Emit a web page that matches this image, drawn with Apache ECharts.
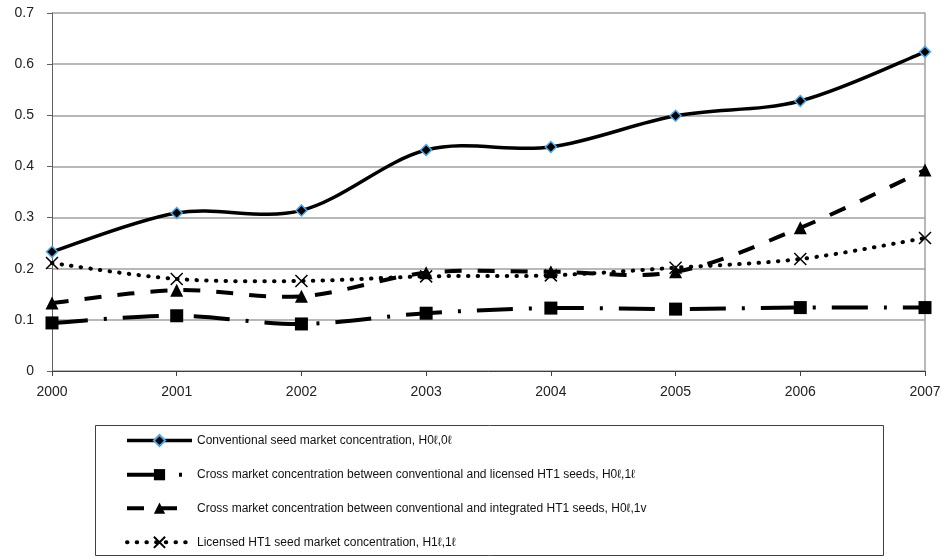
<!DOCTYPE html>
<html>
<head>
<meta charset="utf-8">
<script src="https://cdn.jsdelivr.net/npm/echarts@6/dist/echarts.min.js"></script>
<style>html,body{margin:0;padding:0;background:#fff;}#c{width:949px;height:556px;}</style>
</head>
<body>
<div id="c"></div>
<script>
const years = ['2000','2001','2002','2003','2004','2005','2006','2007'];
const yTicks = [0, 0.1, 0.2, 0.3, 0.4, 0.5, 0.6, 0.7];
const names = [
  'Conventional seed market concentration, H0ℓ,0ℓ',
  'Cross market concentration between conventional and licensed HT1 seeds, H0ℓ,1ℓ',
  'Cross market concentration between conventional and integrated HT1 seeds, H0ℓ,1v',
  'Licensed HT1 seed market concentration, H1ℓ,1ℓ'
];
const conventional = [0.233, 0.309, 0.314, 0.432, 0.438, 0.499, 0.528, 0.624];
const crossLicensed = [0.094, 0.108, 0.092, 0.113, 0.123, 0.121, 0.124, 0.124];
const crossIntegrated = [0.133, 0.158, 0.146, 0.192, 0.194, 0.194, 0.280, 0.393];
const licensed = [0.211, 0.180, 0.176, 0.185, 0.187, 0.202, 0.219, 0.260];

const seriesData = [conventional, crossLicensed, crossIntegrated, licensed];
const lineStyles = [
  {color: '#000', width: 3.5, type: 'solid', opacity: 1},
  {color: '#000', width: 4, type: [36, 16, 3, 16], opacity: 1},
  {color: '#000', width: 4, type: [17, 16], opacity: 1},
  {color: '#000', width: 4, type: [0.5, 9.2], cap: 'round', opacity: 1}
];
const symbols = ['diamond', 'rect', 'triangle', 'path://M0,0L10,10M10,0L0,10'];
const symbolSizes = [11, 13, 13, 12];
const itemStyles = [
  {color: '#000', borderColor: '#4fa6e6', borderWidth: 1.5},
  {color: '#000'},
  {color: '#000'},
  {color: 'rgba(0,0,0,0)', borderColor: '#000', borderWidth: 1.5}
];

// Excel-like smooth curve (Catmull-Rom style Bezier) through the axis coordinates
function smoothPath(pts) {
  let d = 'M' + pts[0][0] + ' ' + pts[0][1];
  for (let i = 0; i < pts.length - 1; i++) {
    const p0 = pts[Math.max(i - 1, 0)], p1 = pts[i], p2 = pts[i + 1], p3 = pts[Math.min(i + 2, pts.length - 1)];
    const c1x = p1[0] + (p2[0] - p0[0]) / 6, c1y = p1[1] + (p2[1] - p0[1]) / 6;
    const c2x = p2[0] - (p3[0] - p1[0]) / 6, c2y = p2[1] - (p3[1] - p1[1]) / 6;
    d += ' C' + c1x + ' ' + c1y + ' ' + c2x + ' ' + c2y + ' ' + p2[0] + ' ' + p2[1];
  }
  return d;
}

const FONT = "'Liberation Sans', Arial, sans-serif";
const chart = echarts.init(document.getElementById('c'), null, {renderer: 'canvas'});

const series = [];
seriesData.forEach((arr, k) => {
  series.push({
    name: names[k], type: 'line', data: arr,
    lineStyle: Object.assign({}, lineStyles[k], {opacity: 0}),
    symbol: symbols[k], symbolSize: symbolSizes[k],
    itemStyle: itemStyles[k], z: 5
  });
});
seriesData.forEach((arr, k) => {
  const ls = lineStyles[k];
  series.push({
    name: 'curve' + k, type: 'custom', coordinateSystem: 'cartesian2d',
    data: arr.map((v, i) => [i, v]), z: 2, silent: true,
    renderItem: function (params, api) {
      if (params.dataIndex !== 0) return null;
      const pts = arr.map((v, i) => api.coord([i, v]));
      return {
        type: 'path',
        shape: {pathData: smoothPath(pts)},
        style: {
          fill: null, stroke: ls.color, lineWidth: ls.width,
          lineDash: Array.isArray(ls.type) ? ls.type : null,
          lineCap: ls.cap || 'butt', lineJoin: 'round'
        }
      };
    }
  });
});

chart.setOption({
  animation: false,
  backgroundColor: '#fff',
  grid: {left: 52, right: 24, top: 13, bottom: 185, containLabel: false},
  xAxis: {
    type: 'category', data: years, boundaryGap: false,
    axisLine: {lineStyle: {color: '#404040', width: 1}},
    axisTick: {show: true, length: 5, lineStyle: {color: '#404040'}},
    axisLabel: {color: '#222', fontSize: 14, fontFamily: FONT, margin: 14},
    splitLine: {show: false}
  },
  yAxis: [{
    type: 'value', min: yTicks[0], max: yTicks[yTicks.length - 1], interval: 0.1,
    axisLine: {show: true, lineStyle: {color: '#606060', width: 1}},
    axisTick: {show: true, length: 5, lineStyle: {color: '#606060'}},
    axisLabel: {color: '#222', fontSize: 14, fontFamily: FONT, margin: 18,
      formatter: v => String(Math.round(v * 10) / 10)},
    splitLine: {show: true, lineStyle: {color: '#a0a0a0', width: 1.5}}
  }, {
    type: 'value', position: 'right', min: 0, max: 0.7, interval: 0.1,
    axisLine: {show: true, lineStyle: {color: '#a0a0a0', width: 1.5}},
    axisTick: {show: false}, axisLabel: {show: false}, splitLine: {show: false}
  }],
  legend: {
    orient: 'vertical', left: 125, top: 434, padding: 0,
    itemWidth: 65, itemHeight: 14, itemGap: 21.5,
    textStyle: {fontFamily: FONT, fontSize: 12, color: '#111'},
    data: names.map((n, k) => ({name: n, lineStyle: lineStyles[k]}))
  },
  graphic: [{
    type: 'rect', left: 93, top: 423, shape: {width: 788, height: 130},
    style: {fill: 'none', stroke: '#404040', lineWidth: 1}, silent: true
  }],
  series: series
});
</script>
</body>
</html>
